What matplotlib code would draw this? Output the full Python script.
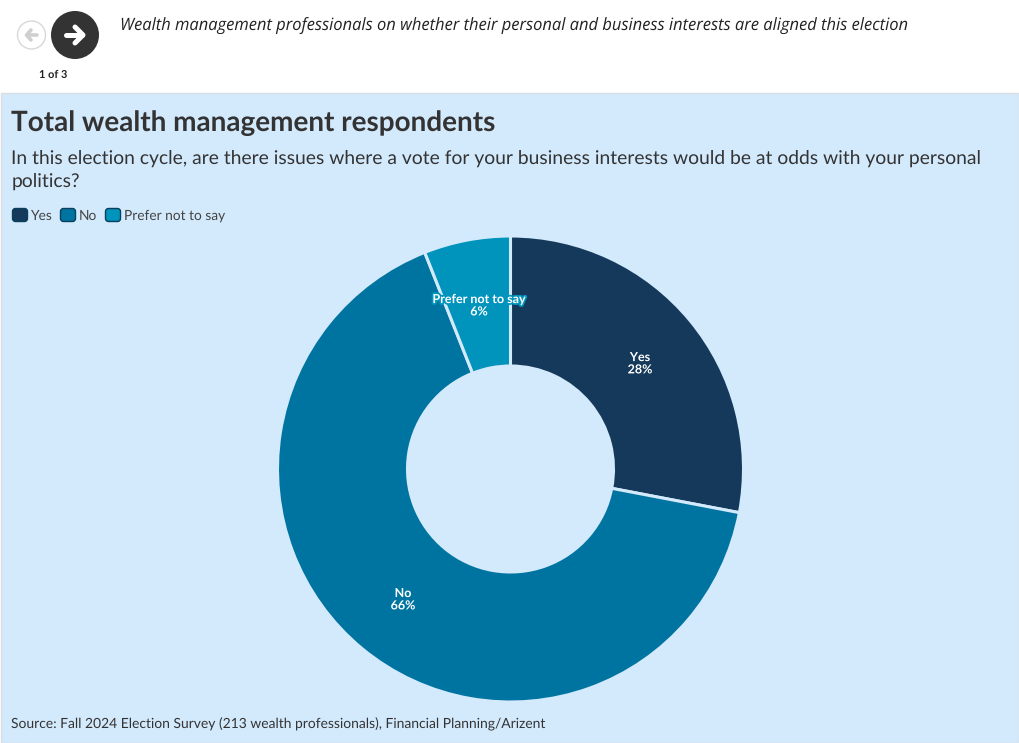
import matplotlib
matplotlib.use('Agg')
import matplotlib.pyplot as plt
import matplotlib.patheffects as pe
from matplotlib.patches import Circle, Rectangle, FancyBboxPatch

# data
categories = ['Yes', 'No', 'Prefer not to say']
values = [28, 66, 6]
colors = ['#14395b', '#0074a0', '#0093bb']

header = 'Wealth management professionals on whether their personal and business interests are aligned this election'
title = 'Total wealth management respondents'
subtitle = 'In this election cycle, are there issues where a vote for your business interests would be at odds with your personal\npolitics?'
source = 'Source: Fall 2024 Election Survey (213 wealth professionals), Financial Planning/Arizent'

W, H = 1020, 743
BG = '#d3e9fc'
px = 0.72  # css px to pt at dpi 100

plt.rcParams['font.family'] = ['Lato', 'Open Sans', 'DejaVu Sans']
plt.rcParams['text.hinting'] = 'no_hinting'

fig = plt.figure(figsize=(W / 100, H / 100), dpi=100, facecolor='white')

# whole figure axes in pixel coordinates, y going down
bg = fig.add_axes([0, 0, 1, 1])
bg.set_xlim(0, W)
bg.set_ylim(H, 0)
bg.axis('off')

# panel
bg.add_patch(Rectangle((0.5, 93), W - 1, H - 93.5, facecolor=BG, edgecolor='#d9dee2', linewidth=1, clip_on=False))

# nav buttons
bg.add_patch(Circle((31.5, 35), 14, facecolor='white', edgecolor='#d8d8d8', linewidth=1))
bg.plot([37, 27], [35, 35], color='#cfcfcf', lw=2.6, solid_capstyle='round')
bg.plot([31, 26.5, 31], [30, 35, 40], color='#cfcfcf', lw=2.6, solid_capstyle='round', solid_joinstyle='round')
bg.add_patch(Circle((75, 35), 24, facecolor='#333333', edgecolor='none'))
bg.plot([66, 82], [35, 35], color='white', lw=3.6, solid_capstyle='round')
bg.plot([75, 83, 75], [27, 35, 43], color='white', lw=3.6, solid_capstyle='round', solid_joinstyle='round')
bg.text(53, 74.5, '1 of 3', ha='center', va='center', fontsize=11 * px, fontweight='bold', color='#222222')

bg.text(120, 25.5, header, ha='left', va='center', fontsize=16.55 * px, style='italic',
        family=['Open Sans', 'DejaVu Sans'], color='#222222')

bg.text(11.5, 123, title, ha='left', va='center', fontsize=27.95 * px, fontweight='bold', color='#333333')
bg.text(11.5, 169.5, subtitle, ha='left', va='center', fontsize=19.25 * px, color='#333333', linespacing=1.42)
bg.text(11.5, 724, source, ha='left', va='center', fontsize=13.87 * px, color='#333333')

# legend
legend_x = [12, 60, 105]
for lx, name, c in zip(legend_x, categories, colors):
    bg.add_patch(FancyBboxPatch((lx + 0.5, 208.5), 15, 13, boxstyle='round,pad=0,rounding_size=3',
                                facecolor=c, edgecolor='#0b3f5e', linewidth=1))
    bg.text(lx + 19, 215.5, name, ha='left', va='center', fontsize=13.73 * px, color='#444444')

# donut
cx, cy, R, r = 510.5, 469, 233, 103
ax = fig.add_axes([(cx - R) / W, 1 - (cy + R) / H, 2 * R / W, 2 * R / H])
ax.set_facecolor('none')
wedges, _ = ax.pie(values, colors=colors, startangle=90, counterclock=False, radius=1,
                   wedgeprops=dict(width=(R - r) / R, edgecolor=BG, linewidth=2.2, joinstyle='round'))
ax.set_xlim(-1, 1)
ax.set_ylim(-1, 1)

# slice labels, halo in slice colour like the original
label_pos = [(640, 363.5), (403, 599.5), (479, 305.5)]
for (lx, ly), name, v, c in zip(label_pos, categories, values, colors):
    txt = fig.text(lx / W, 1 - ly / H, f'{name}\n{v}%', ha='center', va='center', color='white',
                   fontsize=12.5 * px, fontweight='bold', linespacing=1.05, zorder=10)
    txt.set_path_effects([pe.withStroke(linewidth=2.5, foreground=c)])

fig.savefig('out.png', dpi=100, facecolor='white')
